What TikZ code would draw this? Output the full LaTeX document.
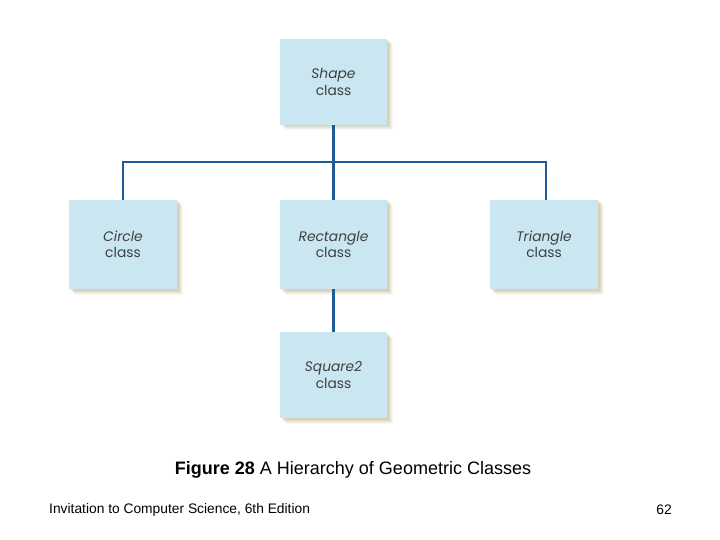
\documentclass[tikz,border=0pt]{standalone}
\usepackage{fontspec}
\setmainfont{Liberation Sans}
\newfontfamily\boxfont{Poppins}
\definecolor{boxfill}{HTML}{C9E6F1}
\definecolor{linkblue}{HTML}{1D5B94}
\definecolor{shadowtan}{HTML}{B8AC82}
\definecolor{boxtext}{HTML}{404040}
\tikzset{
  classbox/.style={fill=boxfill, draw=none, minimum width=107pt, minimum height=87pt,
    inner sep=0pt, align=center, font=\boxfont\fontsize{13.8}{16.5}\selectfont, text=boxtext},
  link/.style={draw=linkblue, line width=2.5pt},
}
\newcommand{\boxshadow}[4]{%
  \foreach \d/\o in {1.5/0.2,2.5/0.18,3.5/0.16,4.5/0.12,5.5/0.08}{
    \fill[shadowtan, opacity=\o] (#1+\d,#2+\d) rectangle (#3+\d,#4+\d);
  }}
\begin{document}
\begin{tikzpicture}[x=1pt,y=-1pt]
\useasboundingbox (0,0) rectangle (720,540);
% shadows
\boxshadow{280}{39}{387}{125}
\boxshadow{69}{200}{177}{289}
\boxshadow{280}{200}{387}{289}
\boxshadow{490}{200}{598}{289}
\boxshadow{280}{332}{387}{418}
% boxes
\node[classbox, minimum height=86pt] (shape) at (333.5,82) {\textit{Shape}\\class};
\node[classbox, minimum width=108pt, minimum height=89pt] (circle) at (123,244.5) {\textit{Circle}\\class};
\node[classbox, minimum height=89pt] (rect) at (333.5,244.5) {\textit{Rectangle}\\class};
\node[classbox, minimum width=108pt, minimum height=89pt] (tri) at (544,244.5) {\textit{Triangle}\\class};
\node[classbox, minimum height=86pt] (square) at (333.5,375) {\textit{Square2}\\class};
% connectors
\coordinate (busR) at (546,162);
\draw[link] (circle.north) |- (busR) -- (busR |- tri.north);
\draw[link] (shape.south) -- (rect.north);
\draw[link] (rect.south) -- (square.north);
% captions
\node[font=\fontsize{18}{20}\selectfont, anchor=center] (caption) at (353,470) {\textbf{Figure 28} A Hierarchy of Geometric Classes};
\node[font=\fontsize{13.8}{15}\selectfont, anchor=west, inner sep=0pt] (footer) at (49,510) {Invitation to Computer Science, 6th Edition};
\node[font=\fontsize{13.8}{15}\selectfont, anchor=east, inner sep=0pt] (page) at (672,510) {62};
\end{tikzpicture}
\end{document}
